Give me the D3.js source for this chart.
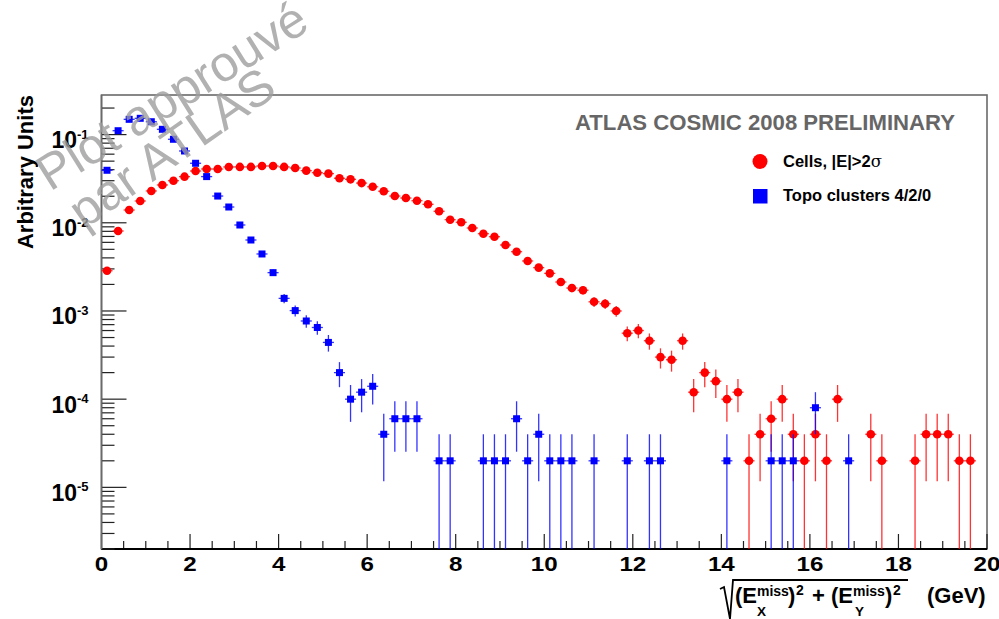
<!DOCTYPE html>
<html><head><meta charset="utf-8">
<script src="https://cdn.jsdelivr.net/npm/d3@7"></script>
<style>body{margin:0;background:#fff}svg{display:block}text{font-family:"Liberation Sans",Arial,Helvetica,sans-serif}</style>
</head><body><svg id="c" width="999" height="619"></svg>
<script>
// ---- data ----
const BIN_WIDTH = 0.25;
const binCenters = d3.range(80).map(i => 0.125 + BIN_WIDTH * i);
const EVENT_WEIGHT = 2e-5; // weight of one entry (used for Poisson error bars)
const cellsValues = [
 0.00286,0.00807,0.01396,0.01766,0.02296,0.02685,0.0300,0.03334,0.03864,0.04074,
 0.0407,0.04295,0.0430,0.0430,0.04406,0.0441,0.0430,0.0418,0.0390,0.0370,
 0.0361,0.0320,0.0311,0.0282,0.0256,0.0228,0.0201,0.0191,0.0178,0.0162,
 0.0135,0.01084,0.01014,0.00873,0.00752,0.00695,0.0056,0.0047,0.00369,0.0031,
 0.00267,0.00213,0.00182,0.00172,0.00127,0.00121,0.00100,5.6e-4,6.0e-4,4.6e-4,
 3.0e-4,2.8e-4,4.6e-4,1.2e-4,2.0e-4,1.6e-4,1.0e-4,1.2e-4,2e-5,4e-5,
 6e-5,1e-4,4e-5,2e-5,4e-5,2e-5,1e-4,0,0,4e-5,
 2e-5,0,0,2e-5,4e-5,4e-5,4e-5,2e-5,2e-5,0];
const topoValues = [
 0.0394,0.1107,0.149,0.153,0.140,0.1148,0.0885,0.0652,0.0473,0.0334,
 0.0201,0.0151,0.00944,0.00638,0.00443,0.00272,0.00139,0.00101,7.7e-4,6.5e-4,
 4.4e-4,2.0e-4,1.0e-4,1.2e-4,1.4e-4,4e-5,6e-5,6e-5,6e-5,0,
 2e-5,2e-5,0,0,2e-5,2e-5,2e-5,6e-5,2e-5,4e-5,
 2e-5,2e-5,2e-5,0,2e-5,0,0,2e-5,0,2e-5,
 2e-5,0,0,0,0,0,2e-5,0,0,0,
 2e-5,2e-5,2e-5,0,8e-5,0,0,2e-5,0,0,
 0,0,0,0,0,0,0,0,0,0];
const xTicks = [0,2,4,6,8,10,12,14,16,18,20];
const yTickExps = [-1,-2,-3,-4,-5];
const seriesNames = ["Cells, |E|>2", "Topo clusters 4/2/0"];
const titleText = "ATLAS COSMIC 2008 PRELIMINARY";

// ---- layout ----
const svg = d3.select("#c");
const X0 = 101.5, X1 = 987, YT = 95, YB = 549;
const x = d3.scaleLinear().domain([0, 20]).range([X0, X1]);
const y = d3.scaleLog().domain([2e-6, 0.2812]).range([YB, YT]);
const YMIN = 2e-6;

// frame
svg.append("rect").attr("x", X0).attr("y", YT).attr("width", X1 - X0).attr("height", YB - YT)
  .attr("fill", "none").attr("stroke", "#6a6a6a").attr("stroke-width", 1.6);

// x ticks
const xMinor = d3.range(0, 20.001, 0.5);
svg.append("g").selectAll("line").data(xMinor).join("line")
  .attr("x1", d => x(d)).attr("x2", d => x(d))
  .attr("y1", YB).attr("y2", d => YB - (Math.abs(d / 2 - Math.round(d / 2)) < 1e-6 ? 15 : 8))
  .attr("stroke", "#222").attr("stroke-width", 1.2);
svg.append("line").attr("x1", X0).attr("x2", X1).attr("y1", YB).attr("y2", YB)
  .attr("stroke", "#000").attr("stroke-width", 2.2);
svg.append("g").selectAll("text").data(xTicks).join("text")
  .attr("transform", d => `translate(${x(d)},571) scale(1.15,1)`)
  .attr("text-anchor", "middle").attr("font-weight", "bold").attr("font-size", 21)
  .text(d => d);

// y ticks
const yMinor = [];
for (let e = -6; e <= -1; e++) for (let m = 1; m <= 9; m++) {
  const v = m * Math.pow(10, e);
  if (v >= YMIN * 0.999 && v <= 0.2812) yMinor.push({v, major: m === 1});
}
svg.append("g").selectAll("line").data(yMinor).join("line")
  .attr("x1", X0).attr("x2", d => X0 + (d.major ? 25 : 13))
  .attr("y1", d => y(d.v)).attr("y2", d => y(d.v))
  .attr("stroke", "#222").attr("stroke-width", 1.2);
svg.append("line").attr("x1", X0).attr("x2", X0).attr("y1", YT).attr("y2", YB)
  .attr("stroke", "#6a6a6a").attr("stroke-width", 1.6);
const yl = svg.append("g").selectAll("g").data(yTickExps).join("g")
  .attr("transform", d => `translate(0,${y(Math.pow(10, d))})`);
yl.append("text").attr("x", 77).attr("y", 13.5).attr("text-anchor", "end")
  .attr("font-weight", "bold").attr("font-size", 23)
  .text("10");
yl.append("text").attr("x", 77).attr("y", 4).attr("font-weight", "bold").attr("font-size", 13)
  .text(d => d);

// axis titles
svg.append("text").attr("transform", "translate(33,95) rotate(-90)").attr("text-anchor", "end")
  .attr("font-weight", "bold").attr("font-size", 22).text("Arbitrary Units");

const xt = svg.append("g").attr("font-weight", "bold");
xt.append("path").attr("d", "M720,589 L724,587 L730,619 L733,580 L908,580")
  .attr("fill", "none").attr("stroke", "#000").attr("stroke-width", 1.8);
const pieces = [
  {t: "(E", x: 735, y: 603, s: 22},
  {t: "miss", x: 757, y: 596, s: 14},
  {t: "X", x: 757, y: 616, s: 13.5},
  {t: ")", x: 788, y: 603, s: 22},
  {t: "2", x: 796, y: 595, s: 14},
  {t: "+", x: 812, y: 603, s: 22},
  {t: "(E", x: 831, y: 603, s: 22},
  {t: "miss", x: 853, y: 596, s: 14},
  {t: "Y", x: 855, y: 616, s: 13.5},
  {t: ")", x: 885, y: 603, s: 22},
  {t: "2", x: 893, y: 595, s: 14},
  {t: "(GeV)", x: 927, y: 603, s: 22}
];
xt.selectAll("text").data(pieces).join("text")
  .attr("x", d => d.x).attr("y", d => d.y).attr("font-size", d => d.s).text(d => d.t);

// title
svg.append("text").attr("x", 575).attr("y", 130).attr("font-weight", "bold").attr("font-size", 21.5)
  .attr("fill", "#666").attr("textLength", 380).attr("lengthAdjust", "spacingAndGlyphs").text(titleText);

// series drawing
function drawSeries(vals, color, marker) {
  const pts = binCenters.map((c, i) => ({c, v: vals[i]})).filter(d => d.v > 0);
  const g = svg.append("g");
  g.selectAll("line.h").data(pts).join("line").attr("class", "h")
    .attr("x1", d => x(d.c - BIN_WIDTH / 2)).attr("x2", d => x(d.c + BIN_WIDTH / 2))
    .attr("y1", d => y(d.v)).attr("y2", d => y(d.v))
    .attr("stroke", color).attr("stroke-width", 1.3).attr("stroke-opacity", 0.8);
  g.selectAll("line.v").data(pts).join("line").attr("class", "v")
    .attr("x1", d => x(d.c)).attr("x2", d => x(d.c))
    .attr("y1", d => y(d.v + Math.sqrt(d.v * EVENT_WEIGHT)))
    .attr("y2", d => y(Math.max(d.v - Math.sqrt(d.v * EVENT_WEIGHT), YMIN)))
    .attr("stroke", color).attr("stroke-width", 1.3).attr("stroke-opacity", 0.8);
  if (marker === "circle") {
    g.selectAll("circle").data(pts).join("circle")
      .attr("cx", d => x(d.c)).attr("cy", d => y(d.v)).attr("r", 4.3).attr("fill", color);
  } else {
    g.selectAll("rect").data(pts).join("rect")
      .attr("x", d => x(d.c) - 3.5).attr("y", d => y(d.v) - 3.5)
      .attr("width", 7).attr("height", 7).attr("fill", color);
  }
}
drawSeries(cellsValues, "#ff0000", "circle");
drawSeries(topoValues, "#0000ff", "square");

// legend
svg.append("circle").attr("cx", 760).attr("cy", 161.5).attr("r", 7.5).attr("fill", "#ff0000");
svg.append("rect").attr("x", 753).attr("y", 189).attr("width", 14.5).attr("height", 14.5).attr("fill", "#0000ff");
const l1 = svg.append("text").attr("x", 783).attr("y", 167).attr("font-weight", "bold").attr("font-size", 16.5);
l1.append("tspan").text(seriesNames[0]);
l1.append("tspan").attr("font-weight", "normal").attr("font-family", "DejaVu Serif").text("σ");
svg.append("text").attr("x", 783).attr("y", 201).attr("font-weight", "bold").attr("font-size", 16.5).text(seriesNames[1]);

// watermark
const wm = svg.append("g").attr("fill", "#9e9e9e").attr("fill-opacity", 0.8).attr("font-size", 50);
wm.append("text").attr("transform", "translate(50,192) rotate(-32)").text("Plot approuvé");
wm.append("text").attr("transform", "translate(84,230) rotate(-35)").text("par ATLAS");
</script></body></html>
